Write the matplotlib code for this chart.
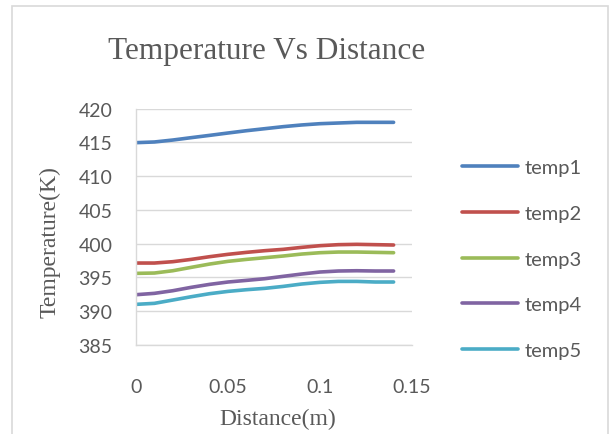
import matplotlib.pyplot as plt
from matplotlib.patches import Rectangle

# distance (m) and temperatures (K)
distance = [0, 0.01, 0.02, 0.03, 0.04, 0.05, 0.06, 0.07, 0.08, 0.09, 0.10, 0.11, 0.12, 0.13, 0.14]
temp1 = [414.97, 415.07, 415.36, 415.71, 416.05, 416.40, 416.74, 417.04, 417.34, 417.59, 417.78, 417.88, 417.98, 417.98, 417.98]
temp2 = [397.14, 397.14, 397.34, 397.68, 398.08, 398.43, 398.72, 398.97, 399.17, 399.46, 399.71, 399.86, 399.91, 399.86, 399.81]
temp3 = [395.61, 395.66, 396.00, 396.50, 396.99, 397.39, 397.68, 397.93, 398.18, 398.47, 398.67, 398.77, 398.77, 398.72, 398.67]
temp4 = [392.45, 392.65, 393.04, 393.54, 393.98, 394.33, 394.57, 394.82, 395.17, 395.51, 395.81, 395.96, 396.00, 395.96, 395.96]
temp5 = [391.02, 391.17, 391.66, 392.15, 392.60, 392.94, 393.19, 393.39, 393.68, 394.03, 394.28, 394.42, 394.42, 394.33, 394.33]

series = [temp1, temp2, temp3, temp4, temp5]
names = ['temp1', 'temp2', 'temp3', 'temp4', 'temp5']
colors = ['#4F81BD', '#C0504D', '#9BBB59', '#8064A2', '#4BACC6']

grey = '#595959'
gridc = '#D9D9D9'
tickfont = 'Lato'

fig = plt.figure(figsize=(6.09, 4.35), dpi=100)
ax = fig.add_axes([136/609, 1-346/435, 276/609, (346-109.7)/435])

for y, name, c in zip(series, names, colors):
    ax.plot(distance, y, color=c, lw=2.6, label=name, solid_capstyle='round')

ax.set_xlim(0, 0.15)
ax.set_ylim(385, 420)
ax.set_xticks([0, 0.05, 0.1, 0.15])
ax.set_xticklabels(['0', '0.05', '0.1', '0.15'])
ax.set_yticks(range(385, 421, 5))
ax.grid(axis='y', color=gridc, lw=1)
ax.set_axisbelow(True)
for s in ['top', 'right']:
    ax.spines[s].set_visible(False)
for s in ['left', 'bottom']:
    ax.spines[s].set_color(gridc)
    ax.spines[s].set_linewidth(1)
ax.tick_params(length=0, colors=grey, labelsize=14)
ax.tick_params(axis='y', pad=17)
ax.tick_params(axis='x', pad=24)
for lab in ax.get_xticklabels() + ax.get_yticklabels():
    lab.set_family(tickfont)

fig.text(267/609, 1-52/435, 'Temperature Vs Distance', family='Liberation Serif',
         fontsize=22.5, color=grey, ha='center', va='center')
fig.text(278/609, 1-419/435, 'Distance(m)', family='Liberation Serif',
         fontsize=17, color=grey, ha='center', va='center')
fig.text(50/609, 1-242/435, 'Temperature(K)', family='Liberation Serif',
         fontsize=17, color=grey, ha='center', va='center', rotation=90)

leg = fig.legend(loc='upper left', bbox_to_anchor=(452/609, 1-150/435), frameon=False,
                 handlelength=2.8, handletextpad=0.3, labelspacing=1.42, borderpad=0,
                 prop={'family': tickfont, 'size': 14.5})
for t in leg.get_texts():
    t.set_color(grey)

fig.patches.append(Rectangle((12/609, -0.05), 596/609, 1.05-7/435, transform=fig.transFigure,
                             fill=False, edgecolor=gridc, lw=1.2))

fig.savefig('out.png', dpi=100)
